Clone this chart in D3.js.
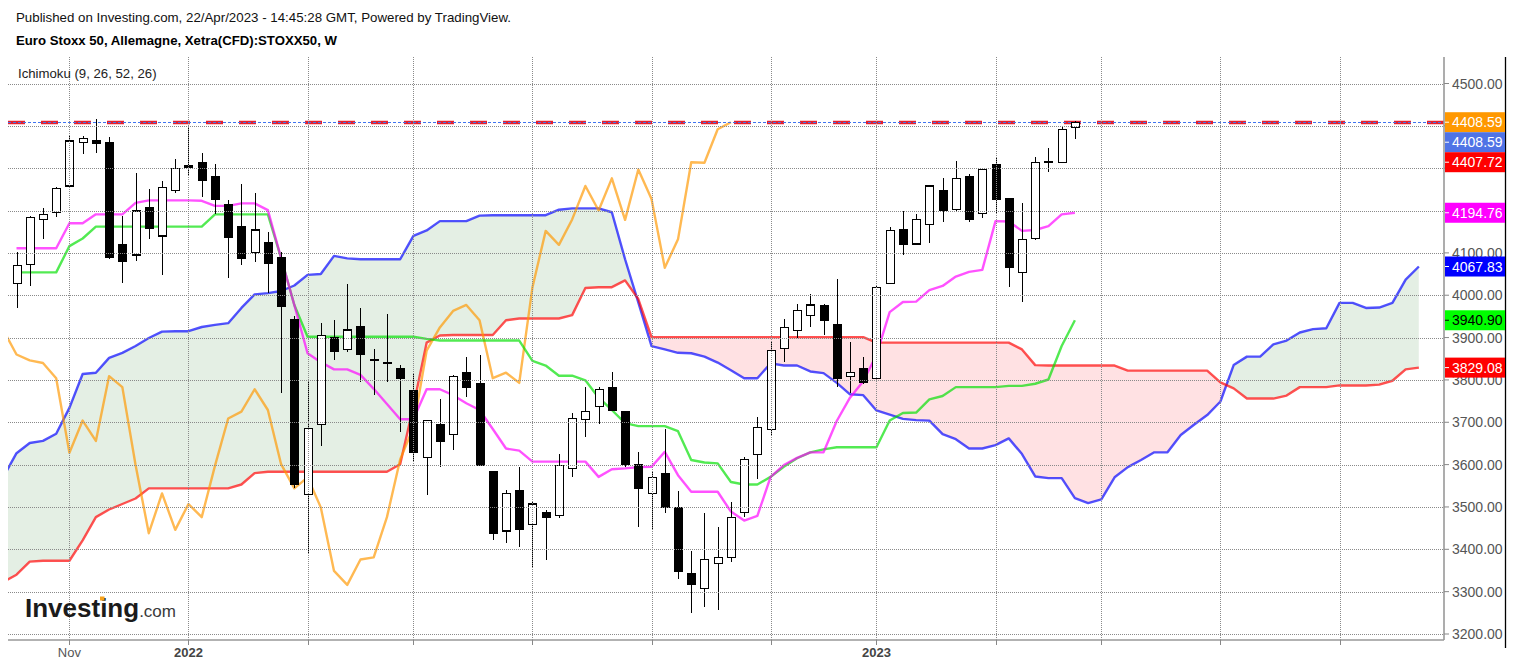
<!DOCTYPE html>
<html>
<head>
<meta charset="utf-8">
<script src="https://cdn.jsdelivr.net/npm/d3@7"></script>
<style>
  html, body { margin: 0; padding: 0; background: #fff; }
  svg { display: block; font-family: Arial, "Liberation Sans", sans-serif; }
</style>
</head>
<body>
<svg id="chart" width="1513" height="668"></svg>
<script>
/// weekly bars, first one is the week of 4 Oct 2021
const firstWeek = '2021-10-04';

const open = [4028, 4073, 4179, 4196, 4258, 4361, 4364, 4361, 4119, 4095,
  4208, 4140, 4248, 4306, 4314, 4281, 4215, 4163, 4101, 4125,
  4089, 3943, 3530, 3695, 3901, 3871, 3926, 3848, 3842, 3827,
  3775, 3617, 3694, 3672, 3818, 3792, 3583, 3443, 3538, 3459,
  3486, 3479, 3591, 3707, 3738, 3783, 3725, 3599, 3532, 3579,
  3499, 3343, 3308, 3367, 3381, 3486, 3623, 3682, 3875, 3916,
  3953, 3975, 3930, 3809, 3827, 3804, 4028, 4156, 4121, 4167,
  4247, 4203, 4281, 4193, 4308, 4229, 4054, 4134, 4316, 4314,
  4396];
const high = [4101, 4187, 4205, 4255, 4376, 4376, 4416, 4374, 4187, 4288,
  4252, 4270, 4321, 4398, 4335, 4311, 4226, 4262, 4242, 4149,
  4103, 3950, 3800, 3935, 3941, 4026, 3969, 3872, 3956, 3835,
  3816, 3706, 3754, 3812, 3855, 3859, 3585, 3540, 3595, 3512,
  3493, 3624, 3721, 3784, 3784, 3819, 3727, 3630, 3582, 3684,
  3538, 3397, 3485, 3453, 3512, 3619, 3713, 3890, 3943, 3979,
  4004, 3979, 4038, 3890, 3855, 4022, 4162, 4200, 4191, 4260,
  4276, 4318, 4286, 4300, 4326, 4230, 4217, 4326, 4347, 4398,
  4411];
const low = [3969, 4022, 4133, 4185, 4255, 4333, 4337, 4085, 4030, 4081,
  4133, 4048, 4242, 4284, 4233, 4193, 4040, 4071, 4078, 4005,
  3768, 3545, 3390, 3644, 3847, 3865, 3796, 3764, 3796, 3678,
  3605, 3528, 3594, 3635, 3759, 3597, 3422, 3414, 3406, 3359,
  3375, 3475, 3571, 3666, 3696, 3727, 3595, 3452, 3448, 3485,
  3331, 3250, 3263, 3257, 3371, 3476, 3566, 3670, 3843, 3900,
  3926, 3906, 3784, 3770, 3790, 3800, 4026, 4095, 4119, 4124,
  4174, 4200, 4174, 4182, 4193, 4020, 3983, 4130, 4290, 4312,
  4369];
const close = [4071, 4184, 4190, 4252, 4364, 4371, 4358, 4089, 4081, 4199,
  4159, 4255, 4300, 4303, 4272, 4227, 4136, 4087, 4154, 4075,
  3973, 3554, 3686, 3904, 3868, 3918, 3860, 3846, 3840, 3804,
  3628, 3704, 3656, 3809, 3783, 3599, 3438, 3532, 3446, 3507,
  3476, 3597, 3709, 3725, 3778, 3729, 3601, 3544, 3570, 3499,
  3349, 3316, 3376, 3381, 3476, 3612, 3688, 3869, 3924, 3963,
  3977, 3941, 3804, 3817, 3793, 4019, 4152, 4119, 4179, 4258,
  4200, 4276, 4178, 4297, 4227, 4065, 4132, 4314, 4313, 4392,
  4408.59];

/// Ichimoku lines (one value per week)
const tenkan = [4111, 4111, 4111, 4111, 4170, 4170, 4191, 4191, 4191, 4218,
  4224, 4224, 4224, 4224, 4223, 4211, 4211, 4217, 4217, 4201,
  4088, 3977, 3863, 3842, 3825, 3825, 3812, 3779, 3743, 3707,
  3707, 3778, 3778, 3764, 3745, 3729, 3684, 3638, 3633, 3607,
  3607, 3607, 3607, 3607, 3571, 3589, 3591, 3594, 3595, 3630,
  3575, 3536, 3536, 3536, 3489, 3468, 3479, 3571, 3599, 3616,
  3629, 3629, 3703, 3758, 3797, 3859, 3960, 3984, 3985, 4012,
  4022, 4044, 4055, 4060, 4175, 4174, 4152, 4154, 4163, 4191,
  4194.76];
const kijun = [4054, 4054, 4054, 4054, 4116, 4134, 4162, 4162, 4162, 4162,
  4162, 4162, 4162, 4162, 4162, 4191, 4191, 4191, 4191, 4191,
  4088, 3977, 3902, 3902, 3902, 3902, 3902, 3902, 3902, 3902,
  3902, 3897, 3893, 3893, 3893, 3893, 3893, 3893, 3893, 3845,
  3834, 3810, 3810, 3799, 3758, 3729, 3698, 3691, 3691, 3691,
  3679, 3611, 3605, 3603, 3559, 3553, 3553, 3571, 3595, 3615,
  3629, 3636, 3641, 3641, 3641, 3641, 3704, 3722, 3723, 3754,
  3762, 3783, 3783, 3783, 3783, 3786, 3786, 3791, 3801, 3880,
  3940.90];
/// cloud spans start one week before the first bar and run 26 weeks past the last
const senkouA = [3571,
  3627, 3651, 3656, 3673, 3734, 3814, 3817, 3852, 3864, 3880,
  3899, 3914, 3915, 3915, 3925, 3930, 3934, 3970, 4002, 4005,
  4010, 4023, 4048, 4050, 4093, 4087, 4085, 4085, 4085, 4085,
  4140, 4153, 4175, 4175, 4175, 4188, 4189, 4189, 4189, 4189,
  4189, 4202, 4205, 4205, 4205, 4196, 4085, 3983, 3880, 3872,
  3864, 3863, 3855, 3841, 3823, 3804, 3804, 3839, 3834, 3834,
  3820, 3816, 3793, 3766, 3764, 3728, 3718, 3708, 3705, 3704,
  3672, 3660, 3638, 3638, 3646, 3662, 3625, 3572, 3568, 3568,
  3521, 3509, 3518, 3570, 3594, 3611, 3629, 3629, 3670, 3694,
  3717, 3749, 3835, 3855, 3855, 3884, 3893, 3912, 3920, 3922,
  3982, 3982, 3970, 3971, 3982, 4037, 4067.83];
const senkouB = [3323,
  3340, 3371, 3373, 3373, 3373, 3421, 3476, 3494, 3507, 3520,
  3544, 3544, 3544, 3544, 3544, 3544, 3544, 3553, 3580, 3583,
  3583, 3583, 3583, 3583, 3583, 3583, 3583, 3583, 3583, 3601,
  3738, 3888, 3905, 3906, 3906, 3906, 3906, 3941, 3945, 3945,
  3945, 3945, 3953, 4017, 4019, 4019, 4035, 3991, 3901, 3901,
  3901, 3901, 3901, 3901, 3901, 3901, 3901, 3901, 3901, 3901,
  3901, 3901, 3901, 3901, 3901, 3888, 3888, 3888, 3888, 3888,
  3888, 3888, 3888, 3888, 3888, 3888, 3872, 3835, 3834, 3834,
  3834, 3834, 3834, 3834, 3822, 3822, 3822, 3822, 3822, 3822,
  3822, 3794, 3780, 3756, 3756, 3756, 3763, 3783, 3783, 3783,
  3787, 3787, 3787, 3789, 3798, 3825, 3829.08];
const chikouShift = 26;

const priceTicks = [3200, 3300, 3400, 3500, 3600, 3700, 3800, 3900,
  4000, 4100, 4200, 4300, 4400, 4500];
const timeTicks = ['2021-11-01', '2022-01-03', '2022-03-07', '2022-05-02',
  '2022-07-04', '2022-09-05', '2022-11-07', '2023-01-02', '2023-03-06',
  '2023-05-01', '2023-07-03', '2023-09-04'];
const timeTickLabels = ['Nov', '2022', '', '', '', '', '', '2023', '', '', '', ''];

const lastPrice = 4408.59;
const labelValues = [4408.59, 4408.59, 4407.72, 4194.76, 4067.83, 3940.90, 3829.08];
const labelColors = ['#ff9800', '#4f73e6', '#ff0000', '#ff00ff', '#0000ff', '#00ff00', '#ff0000'];
const labelTextColors = ['#fff', '#fff', '#fff', '#fff', '#fff', '#000', '#fff'];

/// layout
const plot = { left: 8, right: 1444, top: 57, bottom: 640 };
const svg = d3.select('#chart');
const parse = d3.utcParse('%Y-%m-%d');
const t0 = parse(firstWeek);
const weekDate = (i) => d3.utcDay.offset(t0, 7 * i);

const x = d3.scaleUtc()
  .domain([t0, parse('2023-09-04')])
  .range([16.5, 1339.5]);
const y = d3.scaleLinear()
  .domain([3200, 4500])
  .range([634, 83.5]);

const bars = close.map((c, i) => ({
  date: weekDate(i), o: open[i], h: high[i], l: low[i], c,
}));
const cloud = senkouA.map((a, k) => ({ date: weekDate(k - 1), a, b: senkouB[k] }));
const series = (arr, start) => arr.map((v, k) => ({ date: weekDate(k + start), v }));

const defs = svg.append('defs');
defs.append('clipPath').attr('id', 'plot-clip')
  .append('rect')
  .attr('x', plot.left).attr('y', plot.top)
  .attr('width', plot.right - plot.left).attr('height', plot.bottom - plot.top);

/// cloud fills: green where span A is above span B, pink otherwise
const between = d3.area().x((d) => x(d.date)).y0((d) => y(d.b)).y1((d) => y(d.a));
const aboveB = d3.area().x((d) => x(d.date)).y0(plot.top).y1((d) => y(d.b));
const belowB = d3.area().x((d) => x(d.date)).y0((d) => y(d.b)).y1(plot.bottom);
defs.append('clipPath').attr('id', 'clip-above').append('path').attr('d', aboveB(cloud));
defs.append('clipPath').attr('id', 'clip-below').append('path').attr('d', belowB(cloud));

const g = svg.append('g').attr('clip-path', 'url(#plot-clip)');
g.append('path').attr('d', between(cloud)).attr('fill', '#e4efe4').attr('clip-path', 'url(#clip-above)');
g.append('path').attr('d', between(cloud)).attr('fill', '#ffe1e3').attr('clip-path', 'url(#clip-below)');

/// grid
const grid = svg.append('g')
  .attr('stroke', '#8a8a8a')
  .attr('stroke-dasharray', '1,1')
  .attr('shape-rendering', 'crispEdges');
grid.selectAll('line.h')
  .data(priceTicks)
  .enter().append('line')
  .attr('class', 'h')
  .attr('x1', plot.left).attr('x2', plot.right - 1)
  .attr('y1', (d) => Math.round(y(d)) + 0.5)
  .attr('y2', (d) => Math.round(y(d)) + 0.5);
grid.selectAll('line.v')
  .data(timeTicks)
  .enter().append('line')
  .attr('class', 'v')
  .attr('x1', (d) => Math.round(x(parse(d))) + 0.5)
  .attr('x2', (d) => Math.round(x(parse(d))) + 0.5)
  .attr('y1', plot.top).attr('y2', plot.bottom);

/// ichimoku lines
const line = d3.line().x((d) => x(d.date)).y((d) => y(d.v));
const lines = [
  { data: series(senkouA, -1), color: '#0000ff' },
  { data: series(senkouB, -1), color: '#ff0000' },
  { data: series(close.slice(chikouShift - 1), -1), color: '#ff9800' },
  { data: series(kijun, 0), color: '#00e000' },
  { data: series(tenkan, 0), color: '#ff00ff' },
];
g.selectAll('path.ichi')
  .data(lines)
  .enter().append('path')
  .attr('class', 'ichi')
  .attr('d', (d) => line(d.data))
  .attr('fill', 'none')
  .attr('stroke', (d) => d.color)
  .attr('stroke-opacity', 0.68)
  .attr('stroke-width', 2.4)
  .attr('stroke-linejoin', 'round');

/// last price line
const yp = Math.round(y(lastPrice)) + 0.5;
g.append('line')
  .attr('x1', plot.left).attr('x2', plot.right)
  .attr('y1', yp).attr('y2', yp)
  .attr('stroke', '#e5202e').attr('stroke-width', 3.5)
  .attr('stroke-dasharray', '17,16');
g.append('line')
  .attr('x1', plot.left).attr('x2', plot.right)
  .attr('y1', yp).attr('y2', yp)
  .attr('stroke', '#3f74ee').attr('stroke-width', 1)
  .attr('stroke-dasharray', '3,2');

/// candles
const bodyW = 8;
const candles = g.selectAll('g.bar')
  .data(bars)
  .enter().append('g')
  .attr('class', 'bar')
  .attr('shape-rendering', 'crispEdges');
candles.append('line')
  .attr('x1', (d) => Math.round(x(d.date)) + 0.5)
  .attr('x2', (d) => Math.round(x(d.date)) + 0.5)
  .attr('y1', (d) => y(d.h))
  .attr('y2', (d) => y(d.l))
  .attr('stroke', '#000')
  .attr('stroke-width', 1.3);
candles.append('rect')
  .attr('x', (d) => Math.round(x(d.date)) - bodyW / 2 + 0.5)
  .attr('y', (d) => y(Math.max(d.o, d.c)))
  .attr('width', bodyW)
  .attr('height', (d) => Math.max(1, Math.abs(y(d.o) - y(d.c))))
  .attr('fill', (d) => (d.c >= d.o ? '#fff' : '#000'))
  .attr('stroke', '#000')
  .attr('stroke-width', 1.2);

/// axes
svg.append('line')
  .attr('x1', plot.right).attr('x2', plot.right)
  .attr('y1', plot.top).attr('y2', plot.bottom)
  .attr('stroke', '#999').attr('stroke-width', 1.6);
svg.append('line')
  .attr('x1', plot.left).attr('x2', plot.right)
  .attr('y1', plot.bottom).attr('y2', plot.bottom)
  .attr('stroke', '#999').attr('stroke-width', 1.6);
svg.append('line')
  .attr('x1', 1505.5).attr('x2', 1505.5)
  .attr('y1', plot.top).attr('y2', 648)
  .attr('stroke', '#000').attr('stroke-width', 1.3);

/// price labels on the right, stacked when they overlap
let prevY = -Infinity;
const labelYs = labelValues.map((v) => {
  const cy = Math.max(y(v), prevY + 20);
  prevY = cy;
  return cy;
});
/// axis labels that sit right under a price tag are hidden, as on the chart
const shownTicks = priceTicks.filter((v) => labelYs.every((ly) => Math.abs(ly - y(v)) > 8));

const yAxis = svg.append('g');
yAxis.selectAll('line')
  .data(priceTicks)
  .enter().append('line')
  .attr('x1', plot.right).attr('x2', plot.right + 5)
  .attr('y1', (d) => y(d)).attr('y2', (d) => y(d))
  .attr('stroke', '#888');
yAxis.selectAll('text')
  .data(shownTicks)
  .enter().append('text')
  .attr('x', 1452)
  .attr('y', (d) => y(d))
  .attr('dy', '0.36em')
  .attr('font-size', 14)
  .attr('fill', '#555')
  .text((d) => d3.format('.2f')(d));

const xAxis = svg.append('g');
xAxis.selectAll('line')
  .data(timeTicks)
  .enter().append('line')
  .attr('x1', (d) => Math.round(x(parse(d))) + 0.5)
  .attr('x2', (d) => Math.round(x(parse(d))) + 0.5)
  .attr('y1', plot.bottom).attr('y2', plot.bottom + 5)
  .attr('stroke', '#888');
xAxis.selectAll('text')
  .data(timeTicks)
  .enter().append('text')
  .attr('x', (d) => x(parse(d)))
  .attr('y', 657)
  .attr('text-anchor', 'middle')
  .attr('font-size', 13)
  .attr('font-weight', (_, i) => (/^\d+$/.test(timeTickLabels[i]) ? 'bold' : 'normal'))
  .attr('fill', (_, i) => (/^\d+$/.test(timeTickLabels[i]) ? '#444' : '#555'))
  .text((_, i) => timeTickLabels[i]);

const tags = svg.selectAll('g.tag')
  .data(labelValues)
  .enter().append('g')
  .attr('class', 'tag');
tags.append('rect')
  .attr('x', plot.right + 1)
  .attr('y', (_, i) => labelYs[i] - 10)
  .attr('width', 1505 - plot.right - 1)
  .attr('height', 20)
  .attr('fill', (_, i) => labelColors[i]);
tags.append('line')
  .attr('x1', plot.right + 1).attr('x2', plot.right + 5)
  .attr('y1', (_, i) => labelYs[i]).attr('y2', (_, i) => labelYs[i])
  .attr('stroke', (_, i) => labelTextColors[i]);
tags.append('text')
  .attr('x', 1452)
  .attr('y', (_, i) => labelYs[i])
  .attr('dy', '0.36em')
  .attr('font-size', 14)
  .attr('fill', (_, i) => labelTextColors[i])
  .text((d) => d3.format('.2f')(d));

/// header texts
svg.append('text')
  .attr('x', 16).attr('y', 22)
  .attr('font-size', 13.3).attr('fill', '#111')
  .text('Published on Investing.com, 22/Apr/2023 - 14:45:28 GMT, Powered by TradingView.');
svg.append('text')
  .attr('x', 16).attr('y', 44.5)
  .attr('font-size', 13.2).attr('font-weight', 'bold').attr('fill', '#000')
  .text('Euro Stoxx 50, Allemagne, Xetra(CFD):STOXX50, W');
svg.append('text')
  .attr('x', 18).attr('y', 77.5)
  .attr('font-size', 13.2).attr('fill', '#222')
  .text('Ichimoku (9, 26, 52, 26)');

/// watermark logo
const logo = svg.append('text')
  .attr('x', 25).attr('y', 617)
  .attr('fill', '#1b1b1b');
logo.append('tspan')
  .attr('font-size', 26).attr('font-weight', 'bold')
  .text('Investing');
logo.append('tspan')
  .attr('font-size', 17).attr('fill', '#3a3a3a')
  .text('.com');
svg.append('rect')
  .attr('x', 100).attr('y', 596.5).attr('width', 4.5).attr('height', 4)
  .attr('fill', '#f7a21b');
</script>
</body>
</html>
